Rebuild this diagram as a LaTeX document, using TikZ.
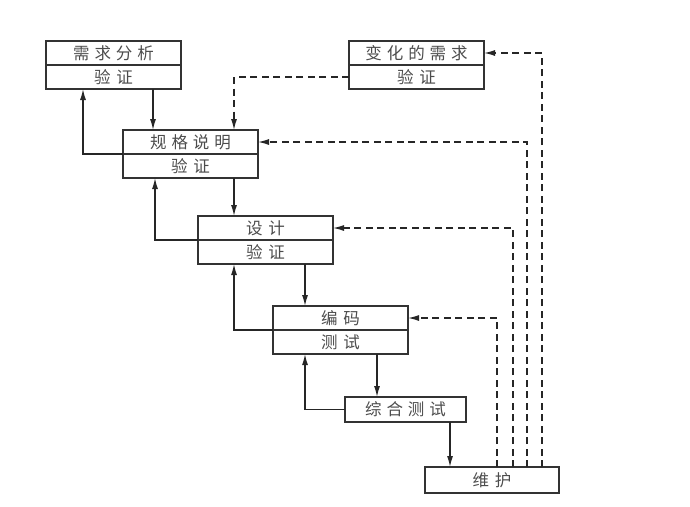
\documentclass[tikz,border=0pt]{standalone}
\usepackage{fontspec}
\newfontfamily\cjk[LetterSpace=30]{Noto Sans CJK SC}
\usetikzlibrary{arrows.meta,positioning}
\newcommand{\pair}[2]{#1\hspace{6pt}#2}

\begin{document}
\begin{tikzpicture}[x=1pt,y=-1pt,font=\cjk\fontsize{16.5}{18}\selectfont,
  stage/.style={draw=black!80,line width=1.4pt,minimum width=135pt,minimum height=24pt,
    inner sep=0pt,outer sep=0pt,text=black!70},
  flow/.style={draw=black!85,line width=1.3pt,-{Latex[length=11pt,width=6pt]}},
  back/.style={flow,dash pattern=on 7pt off 4.5pt}]
\useasboundingbox (0,0) rectangle (690,506);
% two-part stages
\node[stage,anchor=north west] (reqA) at (46,41) {需求分析};
\node[stage,below=0pt of reqA] (reqB) {\pair{验}{证}};
\node[stage,anchor=north west] (chgA) at (349,41) {变化的需求};
\node[stage,below=0pt of chgA] (chgB) {\pair{验}{证}};
\node[stage,anchor=north west] (specA) at (123,130) {规格说明};
\node[stage,below=0pt of specA] (specB) {\pair{验}{证}};
\node[stage,anchor=north west] (desA) at (198,216) {\pair{设}{计}};
\node[stage,below=0pt of desA] (desB) {\pair{验}{证}};
\node[stage,anchor=north west] (codeA) at (273,306) {\pair{编}{码}};
\node[stage,below=0pt of codeA] (codeB) {\pair{测}{试}};
% single stages
\node[stage,anchor=north west,minimum width=121pt,minimum height=25pt] (integ) at (345,397) {综合测试};
\node[stage,anchor=north west,minimum width=134pt,minimum height=26pt] (maint) at (425,467) {\pair{维}{护}};
% forward flow
\draw[flow] ([xshift=30pt]specA.north west |- reqB.south) -- ([xshift=30pt]specA.north west);
\draw[flow] ([xshift=111pt]specB.south west) -- ([xshift=111pt]specB.south west |- desA.north);
\draw[flow] ([xshift=107pt]desB.south west) -- ([xshift=107pt]desB.south west |- codeA.north);
\draw[flow] ([xshift=104pt]codeB.south west) -- ([xshift=104pt]codeB.south west |- integ.north);
\draw[flow] ([xshift=105pt]integ.south west) -- ([xshift=105pt]integ.south west |- maint.north);
% feedback
\draw[flow] (specA.south west) -| ([xshift=37pt]reqB.south west);
\draw[flow] (desA.south west) -| ([xshift=32pt]specB.south west);
\draw[flow] (codeA.south west) -| ([xshift=36pt]desB.south west);
\draw[flow] (integ.west) -| ([xshift=32pt]codeB.south west);
% maintenance loops
\draw[back] ([xshift=72pt]maint.north west) |- (codeA.east);
\draw[back] ([xshift=88pt]maint.north west) |- (desA.east);
\draw[back] ([xshift=102pt]maint.north west) |- (specA.east);
\draw[back] ([xshift=117pt]maint.north west) |- (chgA.east);
\draw[back] (chgB.west) -| ([xshift=111pt]specA.north west);
\end{tikzpicture}
\end{document}
